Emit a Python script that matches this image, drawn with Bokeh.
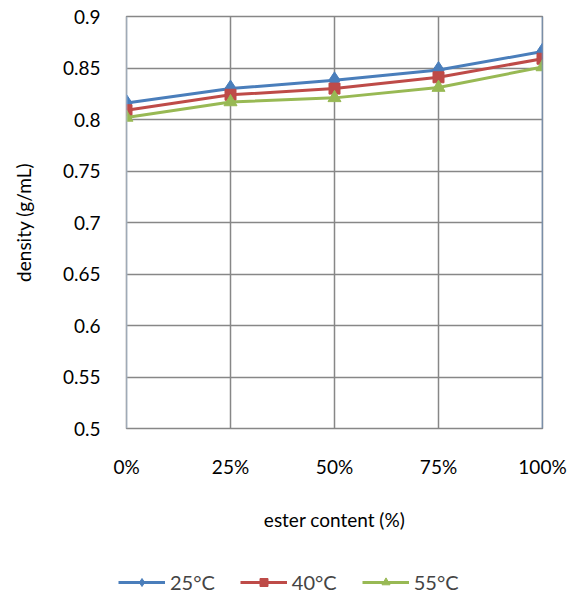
from bokeh.plotting import figure
from bokeh.layouts import column, row
from bokeh.models import Range1d, FixedTicker, Legend, LegendItem, Span
from bokeh.embed import file_html
from bokeh.resources import INLINE

categories = ["0%", "25%", "50%", "75%", "100%"]
d25 = [0.816, 0.830, 0.838, 0.848, 0.866]
d40 = [0.809, 0.824, 0.830, 0.841, 0.859]
d55 = [0.802, 0.817, 0.821, 0.831, 0.851]
y_ticks = [0.5, 0.55, 0.6, 0.65, 0.7, 0.75, 0.8, 0.85, 0.9]
y_tick_labels = ["0.5", "0.55", "0.6", "0.65", "0.7", "0.75", "0.8", "0.85", "0.9"]

FONT = "Lato"
FS = "19px"

x = list(range(len(categories)))

p = figure(width=580, height=555, output_backend="svg", toolbar_location=None,
           x_range=Range1d(0, len(categories) - 1), y_range=Range1d(0.5, 0.9),
           min_border_left=126, min_border_right=38, min_border_top=16,
           min_border_bottom=127)
p.background_fill_color = "white"
p.border_fill_color = "white"
p.outline_line_color = "#878787"
p.outline_line_width = 1.5

p.xaxis.ticker = FixedTicker(ticks=x)
p.xaxis.major_label_overrides = {i: c for i, c in zip(x, categories)}
p.yaxis.ticker = FixedTicker(ticks=y_ticks)
p.yaxis.major_label_overrides = {t: l for t, l in zip(y_ticks, y_tick_labels)}

for ax in (p.xaxis[0], p.yaxis[0]):
    ax.axis_line_color = None
    ax.major_tick_line_color = None
    ax.minor_tick_line_color = None
    ax.major_label_text_font = FONT
    ax.major_label_text_font_size = FS
    ax.major_label_text_color = "black"
    ax.axis_label_text_font = FONT
    ax.axis_label_text_font_size = FS
    ax.axis_label_text_font_style = "normal"
    ax.axis_label_text_color = "black"

p.xaxis.axis_label = "ester content (%)"
p.yaxis.axis_label = "density (g/mL)"
p.xaxis.major_label_standoff = 20
p.xaxis.axis_label_standoff = 27
p.yaxis.major_label_standoff = 20
p.yaxis.axis_label_standoff = 25

p.xgrid.grid_line_color = "#878787"
p.ygrid.grid_line_color = "#878787"
p.xgrid.grid_line_width = 1.5
p.ygrid.grid_line_width = 1.5

p.add_layout(Span(location=0, dimension="height", line_color="#B9CDE5", line_width=1.5))
p.add_layout(Span(location=len(categories) - 1, dimension="height", line_color="#6F96C8", line_width=1.5))

series = [
    ("25°C", d25, "#4A7EBB", "diamond", 17),
    ("40°C", d40, "#BE4B48", "square", 11),
    ("55°C", d55, "#98B954", "triangle", 13),
]

# legend strip below the chart: same series, outside its visible range
pl = figure(width=580, height=46, output_backend="svg", toolbar_location=None,
            x_range=Range1d(10, 11), y_range=Range1d(10, 11),
            min_border_left=0, min_border_right=0, min_border_top=0,
            min_border_bottom=0)
pl.axis.visible = False
pl.grid.visible = False
pl.outline_line_color = None
pl.background_fill_color = "white"
pl.border_fill_color = "white"

items = []
for name, ys, col, mk, sz in series:
    p.line(x, ys, line_color=col, line_width=3)
    p.scatter(x, ys, marker=mk, size=sz, fill_color=col, line_color=col)
    l2 = pl.line(x, ys, line_color=col, line_width=3)
    m2 = pl.scatter(x, ys, marker=mk, size=sz - 3, fill_color=col, line_color=col)
    items.append(LegendItem(label=name, renderers=[l2, m2]))

legend = Legend(items=items, orientation="horizontal", location=(118, 7),
                label_text_font=FONT, label_text_font_size="20px",
                glyph_width=47, glyph_height=20, spacing=25, padding=4,
                margin=0, border_line_color=None, label_standoff=5,
                background_fill_alpha=0)
pl.add_layout(legend, "center")

layout = column(p, row(pl), spacing=0)
open("out.html", "w").write(file_html(layout, INLINE))
